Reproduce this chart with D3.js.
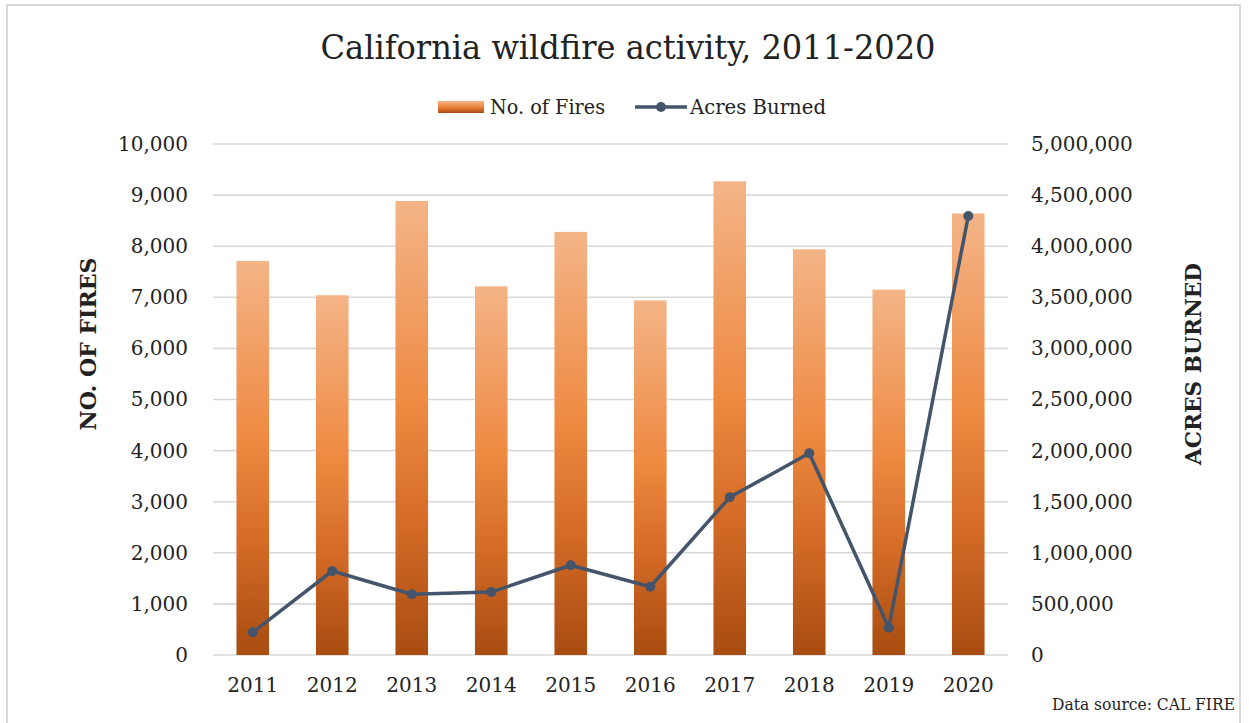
<!DOCTYPE html>
<html>
<head>
<meta charset="utf-8">
<script src="https://cdn.jsdelivr.net/npm/d3@7"></script>
<style>
  html, body { margin: 0; padding: 0; background: #fff; }
  svg { display: block; }
  text { font-family: "DejaVu Serif", "Liberation Serif", serif; fill: #222; }
</style>
</head>
<body>
<svg id="chart" width="1249" height="723"></svg>
<script>
// California wildfire activity, 2011-2020 (CAL FIRE)
const years = ["2011", "2012", "2013", "2014", "2015", "2016", "2017", "2018", "2019", "2020"];
const fires = [7710, 7040, 8885, 7215, 8280, 6940, 9270, 7940, 7150, 8640];
const acres = [222000, 822000, 594000, 616000, 878000, 668000, 1543000, 1974000, 267000, 4295000];
const fireTicks = [0, 1000, 2000, 3000, 4000, 5000, 6000, 7000, 8000, 9000, 10000];
const acreTicks = [0, 500000, 1000000, 1500000, 2000000, 2500000, 3000000, 3500000, 4000000, 4500000, 5000000];

const svg = d3.select("#chart");
const W = 1249, H = 723;
const plot = { left: 213, right: 1008, top: 144, bottom: 655 };

// Outer frame
svg.append("rect")
  .attr("x", 7).attr("y", 5)
  .attr("width", 1233).attr("height", H + 10)
  .attr("fill", "#fff")
  .attr("stroke", "#d9d9d9").attr("stroke-width", 2);

// Bar gradient: light at top, deep orange-brown at bottom
const defs = svg.append("defs");
const grad = defs.append("linearGradient")
  .attr("id", "barGrad").attr("x1", 0).attr("y1", 0).attr("x2", 0).attr("y2", 1);
[[0, "#F4B487"], [0.45, "#EE8A42"], [0.72, "#D36A26"], [1, "#A84C10"]].forEach(([o, c]) =>
  grad.append("stop").attr("offset", o).attr("stop-color", c));

const x = d3.scaleBand().domain(years).range([plot.left, plot.right]).padding(0);
const yL = d3.scaleLinear().domain([0, 10000]).range([plot.bottom, plot.top]);
const yR = d3.scaleLinear().domain([0, 5000000]).range([plot.bottom, plot.top]);

// Gridlines
svg.append("g").selectAll("line").data(fireTicks).join("line")
  .attr("x1", plot.left).attr("x2", plot.right)
  .attr("y1", d => yL(d)).attr("y2", d => yL(d))
  .attr("stroke", "#d9d9d9").attr("stroke-width", 1.6);

// Left axis labels
const leftAxis = d3.axisLeft(yL).tickValues(fireTicks).tickFormat(d3.format(",")).tickSize(0).tickPadding(0);
const gL = svg.append("g").attr("transform", `translate(188,0)`).call(leftAxis);
gL.select(".domain").remove();
gL.selectAll("text").attr("font-size", 20).attr("font-family", "DejaVu Serif").attr("fill", "#222");

// Right axis labels
const rightAxis = d3.axisRight(yR).tickValues(acreTicks).tickFormat(d3.format(",")).tickSize(0).tickPadding(0);
const gR = svg.append("g").attr("transform", `translate(1031,0)`).call(rightAxis);
gR.select(".domain").remove();
gR.selectAll("text").attr("font-size", 20).attr("font-family", "DejaVu Serif").attr("fill", "#222");

// Bars
const barW = x.bandwidth() * 0.41;
svg.append("g").selectAll("rect").data(years).join("rect")
  .attr("x", (d) => x(d) + (x.bandwidth() - barW) / 2)
  .attr("y", (d, i) => yL(fires[i]))
  .attr("width", barW)
  .attr("height", (d, i) => yL(0) - yL(fires[i]))
  .attr("fill", "url(#barGrad)");

// Acres burned line
const line = d3.line()
  .x((d, i) => x(years[i]) + x.bandwidth() / 2)
  .y(d => yR(d));
svg.append("path").datum(acres)
  .attr("d", line)
  .attr("fill", "none")
  .attr("stroke", "#44546A").attr("stroke-width", 3.5)
  .attr("stroke-linejoin", "round");
svg.append("g").selectAll("circle").data(acres).join("circle")
  .attr("cx", (d, i) => x(years[i]) + x.bandwidth() / 2)
  .attr("cy", d => yR(d))
  .attr("r", 5)
  .attr("fill", "#44546A");

// X axis labels
const bottomAxis = d3.axisBottom(x).tickSize(0).tickPadding(0);
const gB = svg.append("g").attr("transform", `translate(0,${plot.bottom + 23})`).call(bottomAxis);
gB.select(".domain").remove();
gB.selectAll("text").attr("font-size", 20).attr("font-family", "DejaVu Serif").attr("fill", "#222");

// Title
svg.append("text")
  .attr("x", 628).attr("y", 59)
  .attr("text-anchor", "middle")
  .attr("font-size", 33)
  .attr("textLength", 615).attr("lengthAdjust", "spacingAndGlyphs")
  .text("California wildfire activity, 2011-2020");

// Legend
svg.append("rect").attr("x", 438).attr("y", 101).attr("width", 46).attr("height", 12).attr("fill", "url(#barGrad)");
svg.append("text").attr("x", 490).attr("y", 114).attr("font-size", 20)
  .attr("textLength", 115).attr("lengthAdjust", "spacingAndGlyphs").text("No. of Fires");
svg.append("line").attr("x1", 635).attr("x2", 687).attr("y1", 107).attr("y2", 107)
  .attr("stroke", "#44546A").attr("stroke-width", 3.5);
svg.append("circle").attr("cx", 661).attr("cy", 107).attr("r", 5).attr("fill", "#44546A");
svg.append("text").attr("x", 690).attr("y", 114).attr("font-size", 20)
  .attr("textLength", 136).attr("lengthAdjust", "spacingAndGlyphs").text("Acres Burned");

// Axis titles
svg.append("text")
  .attr("transform", "translate(96,344) rotate(-90)")
  .attr("text-anchor", "middle").attr("font-size", 23).attr("font-weight", "bold")
  .attr("textLength", 173).attr("lengthAdjust", "spacingAndGlyphs")
  .text("NO. OF FIRES");
svg.append("text")
  .attr("transform", "translate(1201,364) rotate(-90)")
  .attr("text-anchor", "middle").attr("font-size", 23).attr("font-weight", "bold")
  .attr("textLength", 202).attr("lengthAdjust", "spacingAndGlyphs")
  .text("ACRES BURNED");

// Source note
svg.append("text")
  .attr("x", 1235).attr("y", 710)
  .attr("text-anchor", "end").attr("font-size", 16)
  .attr("textLength", 183).attr("lengthAdjust", "spacingAndGlyphs")
  .text("Data source: CAL FIRE");
</script>
</body>
</html>
